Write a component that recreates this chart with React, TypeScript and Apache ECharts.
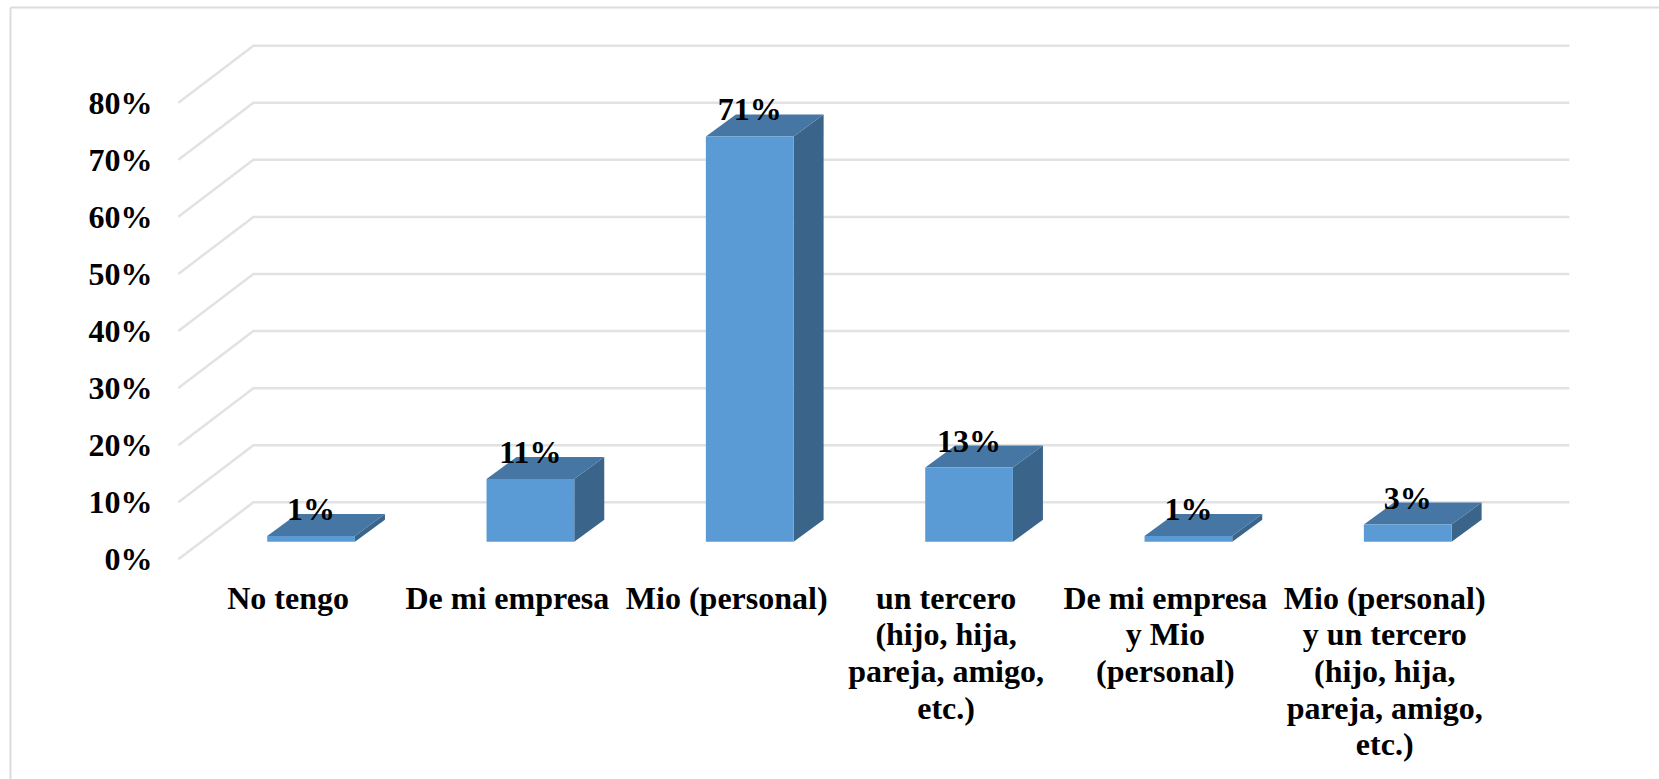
import React, { useEffect, useRef } from "react";
import * as echarts from "echarts";

const categories = [
  "No tengo",
  "De mi empresa",
  "Mio (personal)",
  "un tercero\n(hijo, hija,\npareja, amigo,\netc.)",
  "De mi empresa\ny Mio\n(personal)",
  "Mio (personal)\ny un tercero\n(hijo, hija,\npareja, amigo,\netc.)",
];
const values = [1, 11, 71, 13, 1, 3];
const ticks = [0, 10, 20, 30, 40, 50, 60, 70, 80];

const FONT_FAMILY = '"Liberation Serif", "Times New Roman", serif';
const FONT_SIZE = 32;
const WALL = { dx: 75, dy: -57 };
const BAR_OFFSET = { dx: 23, dy: -17.6 };
const BAR_DEPTH = { dx: 30, dy: -22 };
const COLORS = { front: "#5b9bd5", top: "#4676a3", side: "#3a6489", grid: "#e2e2e2", frame: "#dcdcdc" };

export default function App() {
  const ref = useRef<HTMLDivElement>(null);

  useEffect(() => {
    const chart = echarts.init(ref.current!, undefined, { renderer: "svg" });
    chart.setOption({
      animation: false,
      backgroundColor: "#ffffff",
      grid: { left: 178.4, top: 102.7, width: 1316, height: 456.6 },
      xAxis: {
        type: "category",
        data: categories,
        axisLine: { show: false },
        axisTick: { show: false },
        axisLabel: {
          interval: 0,
          margin: 20,
          color: "#000",
          fontFamily: FONT_FAMILY,
          fontSize: FONT_SIZE,
          fontWeight: "bold",
          lineHeight: 36.7,
        },
      },
      yAxis: {
        type: "value",
        min: 0,
        max: 80,
        interval: 10,
        splitLine: { show: false },
        axisLine: { show: false },
        axisTick: { show: false },
        axisLabel: {
          formatter: "{value}%",
          margin: 26,
          padding: [3, 0, 0, 0],
          color: "#000",
          fontFamily: FONT_FAMILY,
          fontSize: FONT_SIZE,
          fontWeight: "bold",
        },
      },
      // Frame of the chart area: only the top and left edges are drawn
      graphic: [
        { type: "line", silent: true, shape: { x1: 10.5, y1: 7.5, x2: 1659, y2: 7.5 }, style: { stroke: COLORS.frame, lineWidth: 2 } },
        { type: "line", silent: true, shape: { x1: 10.5, y1: 7.5, x2: 10.5, y2: 779 }, style: { stroke: COLORS.frame, lineWidth: 2 } },
      ],
      series: [
        {
          // Side wall and back wall gridlines of the 3D plot box
          type: "custom",
          coordinateSystem: "cartesian2d",
          z: 1,
          silent: true,
          clip: false,
          data: ticks.map((t) => [0, t]),
          encode: { x: 0, y: 1 },
          renderItem: (params: any, api: any) => {
            const y = api.coord([0, api.value(1)])[1];
            const left = params.coordSys.x;
            const right = left + params.coordSys.width;
            return {
              type: "polyline",
              shape: {
                points: [
                  [left, y],
                  [left + WALL.dx, y + WALL.dy],
                  [right + WALL.dx, y + WALL.dy],
                ],
              },
              style: { stroke: COLORS.grid, lineWidth: 2.5, fill: "none" },
            };
          },
        },
        {
          // Extruded columns with their value labels
          type: "custom",
          coordinateSystem: "cartesian2d",
          z: 2,
          clip: false,
          data: values.map((v, i) => [i, v]),
          encode: { x: 0, y: 1 },
          renderItem: (_params: any, api: any) => {
            const value = api.value(1);
            const [cx, topY] = api.coord([api.value(0), value]);
            const baseY = api.coord([api.value(0), 0])[1] + BAR_OFFSET.dy;
            const yTop = topY + BAR_OFFSET.dy;
            const half = api.size([1, 0])[0] * 0.2;
            const x0 = cx + BAR_OFFSET.dx - half;
            const x1 = cx + BAR_OFFSET.dx + half;
            const { dx, dy } = BAR_DEPTH;
            return {
              type: "group",
              children: [
                {
                  type: "polygon",
                  shape: { points: [[x1, yTop], [x1 + dx, yTop + dy], [x1 + dx, baseY + dy], [x1, baseY]] },
                  style: { fill: COLORS.side },
                },
                {
                  type: "polygon",
                  shape: { points: [[x0, yTop], [x0 + dx, yTop + dy], [x1 + dx, yTop + dy], [x1, yTop]] },
                  style: { fill: COLORS.top },
                },
                {
                  type: "rect",
                  shape: { x: x0, y: yTop, width: x1 - x0, height: baseY - yTop },
                  style: { fill: COLORS.front },
                },
                {
                  type: "text",
                  style: {
                    x: (x0 + x1) / 2,
                    y: yTop - 27,
                    text: value + "%",
                    align: "center",
                    verticalAlign: "middle",
                    fill: "#000",
                    font: `bold ${FONT_SIZE}px ${FONT_FAMILY}`,
                  },
                },
              ],
            };
          },
        },
      ],
    });
    return () => chart.dispose();
  }, []);

  return <div ref={ref} style={{ position: "absolute", left: 0, top: 0, width: 1659, height: 779 }} />;
}
